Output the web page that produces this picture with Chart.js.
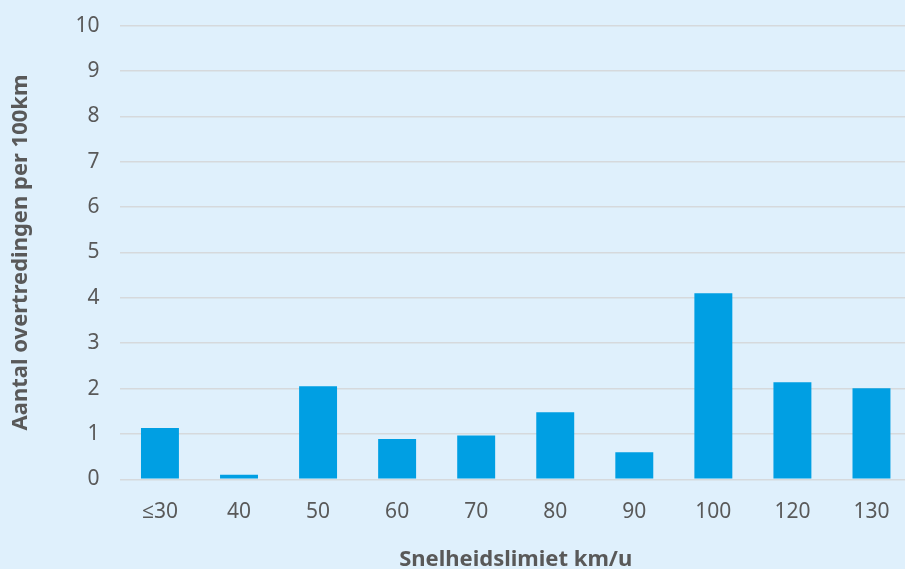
<!DOCTYPE html>
<html>
<head>
<meta charset="utf-8">
<script src="https://cdn.jsdelivr.net/npm/chart.js@4"></script>
<style>
html,body{margin:0;padding:0;background:#DFF0FC;overflow:hidden;}
#wrap{width:905px;height:569px;position:relative;overflow:hidden;}
#c{position:absolute;left:0;top:-8px;}
</style>
</head>
<body>
<div id="wrap"><canvas id="c" width="911" height="581"></canvas></div>
<script>
const categories = ["≤30","40","50","60","70","80","90","100","120","130"];
const values = [1.13, 0.1, 2.05, 0.89, 0.97, 1.48, 0.6, 4.1, 2.14, 2.01];
const yTitle = "Aantal overtredingen per 100km";
const xTitle = "Snelheidslimiet km/u";

const fontFam = "'Noto Sans', 'Open Sans', sans-serif";
new Chart(document.getElementById('c'), {
  type: 'bar',
  data: {
    labels: categories,
    datasets: [{ data: values, backgroundColor: '#009FE3', barPercentage: 0.48, categoryPercentage: 1.0 }]
  },
  options: {
    responsive: false,
    animation: false,
    layout: { padding: { top: 0, left: 4, right: 0, bottom: 0 } },
    plugins: { legend: { display: false }, tooltip: { enabled: false } },
    scales: {
      x: {
        grid: { display: false },
        border: { display: false },
        ticks: { color: '#595959', font: { family: fontFam, size: 21 }, padding: 12 },
        title: { display: true, text: xTitle, color: '#595959', font: { family: fontFam, size: 22, weight: 'bold' }, padding: { top: 10, bottom: 0 } }
      },
      y: {
        min: 0, max: 10,
        ticks: { stepSize: 1, color: '#595959', font: { family: fontFam, size: 21 }, padding: 21 },
        grid: { color: '#D6D9DC', lineWidth: 1.6, drawTicks: false },
        border: { display: false },
        title: { display: true, text: yTitle, color: '#595959', font: { family: fontFam, size: 22, weight: 'bold' }, padding: { top: 4, bottom: 20 } }
      }
    }
  }
});
</script>
</body>
</html>
